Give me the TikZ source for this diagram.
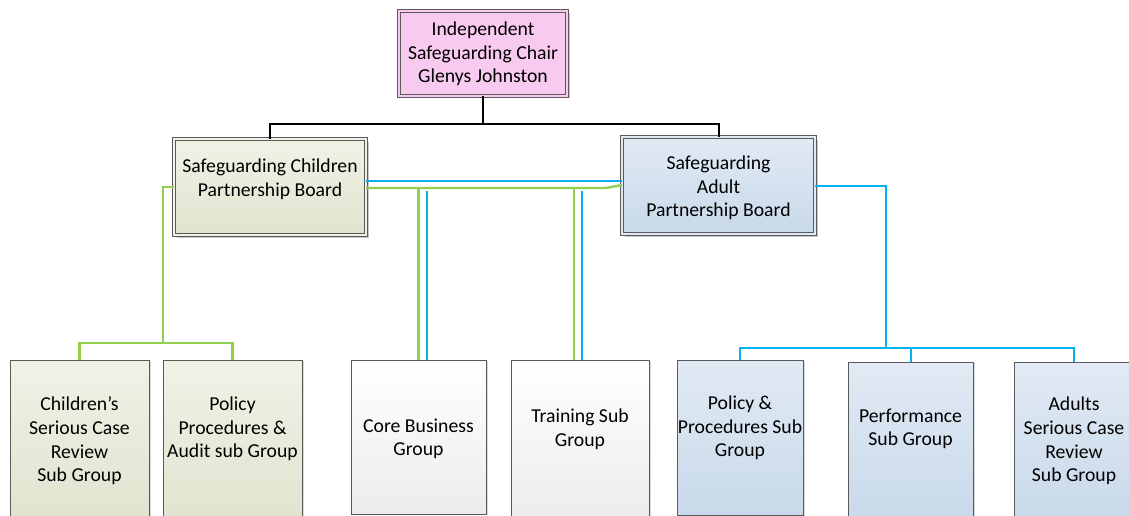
\documentclass[tikz,border=0pt]{standalone}
\usepackage{fontspec}
\setmainfont{Carlito}
\usetikzlibrary{shadows}
\definecolor{pinkf}{RGB}{248,202,240}
\definecolor{gtop}{RGB}{240,242,230}
\definecolor{gbot}{RGB}{224,228,207}
\definecolor{btop}{RGB}{225,234,244}
\definecolor{bbot}{RGB}{200,217,234}
\definecolor{wtop}{RGB}{255,255,255}
\definecolor{wbot}{RGB}{236,236,236}
\definecolor{edge}{RGB}{90,90,90}
\definecolor{lgreen}{RGB}{146,208,80}
\definecolor{lblue}{RGB}{0,176,240}
\tikzset{
  shad/.style={drop shadow={shadow xshift=2.5pt,shadow yshift=-2.5pt,fill=black,opacity=0.22}},
  board/.style={draw=edge,line width=0.8pt,double distance=2pt,outer sep=0pt,inner sep=0pt,shad},
  subbox/.style={draw=edge,line width=0.9pt,outer sep=0pt,inner sep=0pt,anchor=north west,
     drop shadow={shadow xshift=2pt,shadow yshift=-1pt,fill=black,opacity=0.15}},
  gsh/.style={shading=axis,top color=gtop,bottom color=gbot},
  bsh/.style={shading=axis,top color=btop,bottom color=bbot},
  wsh/.style={shading=axis,top color=wtop,bottom color=wbot},
  txt/.style={align=center,inner sep=0pt,font=\fontsize{19.7}{23.6}\selectfont},
  bk/.style={draw=black,line width=2pt},
  gl/.style={draw=lgreen,line width=2.4pt},
  bl/.style={draw=lblue,line width=2pt},
}
\begin{document}
\begin{tikzpicture}[x=1pt,y=-1pt]
\useasboundingbox (0,0) rectangle (1129,516);
\clip (0,0) rectangle (1129,516);
\fill[white] (0,0) rectangle (1129,516);
% top and boards
\node[board,fill=pinkf,double=pinkf,minimum width=168pt,minimum height=85pt] (top) at (483,53.5) {};
\node[txt] (toptx) at (483,54) {Independent\\Safeguarding Chair\\Glenys Johnston};
\node[board,gsh,double=gtop,minimum width=192pt,minimum height=96pt] (lb) at (270,187) {};
\node[txt] (lbtx) at (270,179) {Safeguarding Children\\Partnership Board};
\node[board,bsh,double=btop,minimum width=193pt,minimum height=97pt] (rb) at (718.5,185.5) {};
\node[txt] (rbtx) at (718.5,188) {Safeguarding\\Adult\\Partnership Board};
% sub boxes
\node[subbox,gsh,minimum width=139pt,minimum height=160pt] (b1) at (10,360) {};
\node[subbox,gsh,minimum width=139pt,minimum height=160pt] (b2) at (163,360) {};
\node[subbox,wsh,minimum width=135pt,minimum height=154pt] (b3) at (351,360) {};
\node[subbox,wsh,minimum width=138pt,minimum height=160pt] (b4) at (511,360) {};
\node[subbox,bsh,minimum width=126pt,minimum height=155pt] (b5) at (677,360) {};
\node[subbox,bsh,minimum width=125pt,minimum height=160pt] (b6) at (848,362) {};
\node[subbox,bsh,minimum width=120pt,minimum height=160pt] (b7) at (1014,362) {};
\node[txt] (t1) at (79.5,441) {Children’s\\Serious Case\\Review\\Sub Group};
\node[txt] (t2) at (232.5,429) {Policy\\Procedures \&\\Audit sub Group};
\node[txt] (t3) at (418.5,439) {Core Business\\Group};
\node[txt] (t4) at (580,429) {Training Sub\\Group};
\node[txt] (t5) at (740,428) {Policy \&\\Procedures Sub\\Group};
\node[txt] (t6) at (910.5,429) {Performance\\Sub Group};
\node[txt] (t7) at (1074,441) {Adults\\Serious Case\\Review\\Sub Group};
% black connectors
\coordinate (kb) at (483,124);
\draw[bk] (top.south) -- (kb);
\draw[bk] (lb.north) |- (kb) -| (rb.north);
% green connectors
\coordinate (gb) at (163,343);
\draw[gl] (lb.west) -| (gb);
\draw[gl] (b1.north) |- (gb) -| (b2.north);
\coordinate (gh) at ([yshift=-1pt]lb.east);
\draw[gl] (gh) -- ++(240,0) -- ([yshift=0.5pt]rb.west);
\draw[gl] (b3.north) -- (b3.north |- gh);
\draw[gl] ([xshift=-6pt]b4.north) -- ([xshift=-6pt]b4.north |- gh);
% blue connectors
\coordinate (bh) at ([yshift=6pt]lb.east);
\draw[bl] (bh) -- (rb.west |- bh);
\draw[bl] ([xshift=8pt]b3.north) -- ++(0,-169);
\draw[bl] ([xshift=2pt]b4.north) -- ++(0,-169);
\coordinate (bb) at (886,348);
\draw[bl] (rb.east) -| (bb);
\draw[bl] (b5.north) |- (bb) -| (b7.north);
\draw[bl] (b6.north) -- (b6.north |- bb);
\end{tikzpicture}
\end{document}
